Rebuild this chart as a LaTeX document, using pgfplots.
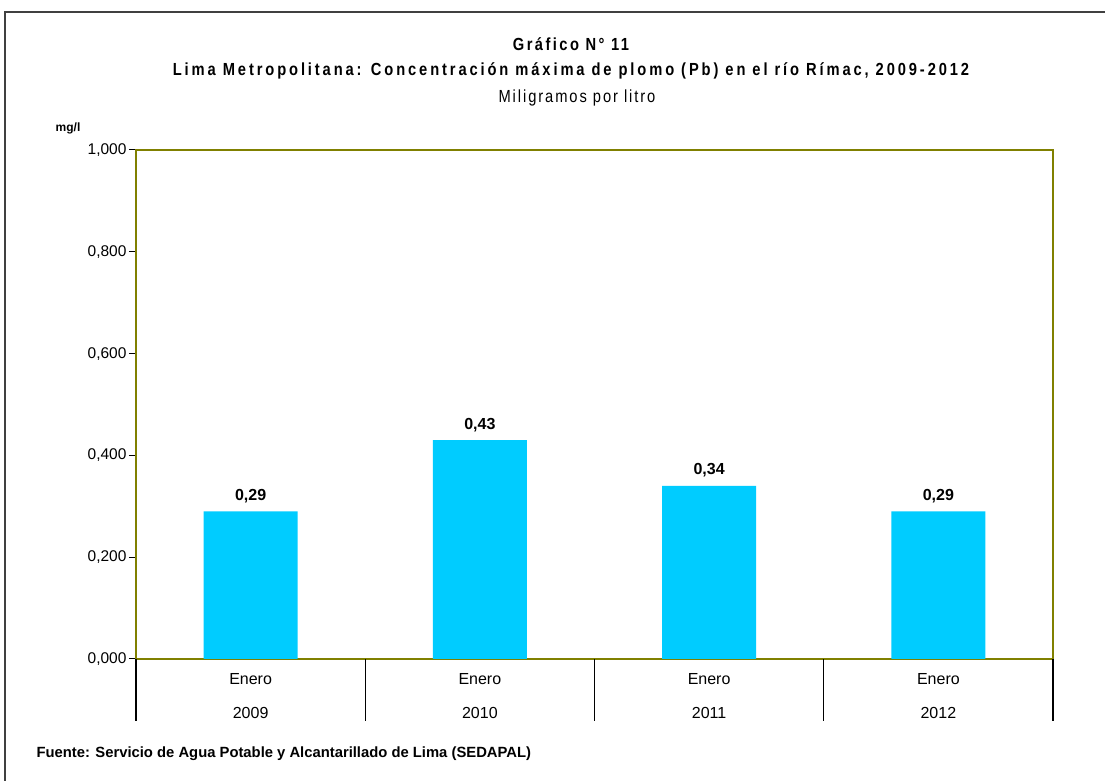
\documentclass[border=0pt]{standalone}
\usepackage{pgfplots}
\pgfplotsset{compat=1.18}
\usepackage{fontspec}
\setmainfont{Liberation Sans}
\definecolor{barcyan}{HTML}{00CCFF}
\definecolor{olivebd}{HTML}{808000}
\begin{document}
\begin{tikzpicture}[x=1pt,y=1pt]
\useasboundingbox (0pt,0pt) rectangle (1105pt,781pt);
\fill[white] (0pt,0pt) rectangle (1105pt,781pt);
\draw[black!75, line width=1.2pt] (5pt,-2pt) -- (5pt,769pt) -- (1107pt,769pt);
\node[font=\bfseries\fontsize{17.5}{20}\selectfont\addfontfeature{FakeStretch=0.84,LetterSpace=14}] at (571pt,737pt) {Gráfico N° 11};
\node[font=\bfseries\fontsize{17.5}{20}\selectfont\addfontfeature{FakeStretch=0.84,LetterSpace=16.5}] at (571pt,710pt) {Lima Metropolitana: Concentración máxima de plomo (Pb) en el río Rímac, 2009-2012};
\node[font=\fontsize{17.5}{20}\selectfont\addfontfeature{FakeStretch=0.84,LetterSpace=11}] at (577pt,683pt) {Miligramos por litro};
\node[font=\bfseries\fontsize{12}{14}\selectfont] at (68pt,653pt) {mg/l};
\node[font=\bfseries\fontsize{14.8}{17}\selectfont, anchor=west] at (33pt,27pt) {Fuente: Servicio de Agua Potable y Alcantarillado de Lima (SEDAPAL)};
\begin{axis}[
  at={(136pt,122pt)}, anchor=south west, scale only axis,
  width=917pt, height=509pt,
  xmin=-0.5, xmax=3.5, ymin=0, ymax=1,
  ytick={0,0.2,0.4,0.6,0.8,1},
  xtick={0,1,2,3},
  xticklabels={{Enero\\[15pt]2009},{Enero\\[15pt]2010},{Enero\\[15pt]2011},{Enero\\[15pt]2012}},
  x tick label style={align=center, font=\fontsize{16}{19}\selectfont, yshift=-4pt},
  y tick label style={font=\fontsize{15.5}{18}\selectfont, xshift=1pt},
  yticklabel style={/pgf/number format/fixed, /pgf/number format/fixed zerofill, /pgf/number format/precision=3, /pgf/number format/use comma, /pgf/number format/1000 sep={}},
  /pgf/number format/assume math mode=true,
  axis line style={olivebd, line width=2pt},
  tick align=outside,
  xtick pos=bottom, ytick pos=left,
  major tick length=7pt,
  x tick style={draw=none},
  y tick style={black, line width=1pt},
  extra x ticks={-0.5,0.5,1.5,2.5,3.5},
  extra x tick labels={},
  extra x tick style={major tick length=62pt, x tick style={draw=black, line width=1.3pt}},
  ybar, bar width=94pt,
  nodes near coords,
  nodes near coords style={font=\bfseries\fontsize{16}{19}\selectfont, yshift=5pt, /pgf/number format/fixed, /pgf/number format/fixed zerofill, /pgf/number format/precision=2, /pgf/number format/use comma},
  clip=false,
]
\addplot[fill=barcyan, draw=none] coordinates {(0,0.29) (1,0.43) (2,0.34) (3,0.29)};
\end{axis}
\end{tikzpicture}
\end{document}
